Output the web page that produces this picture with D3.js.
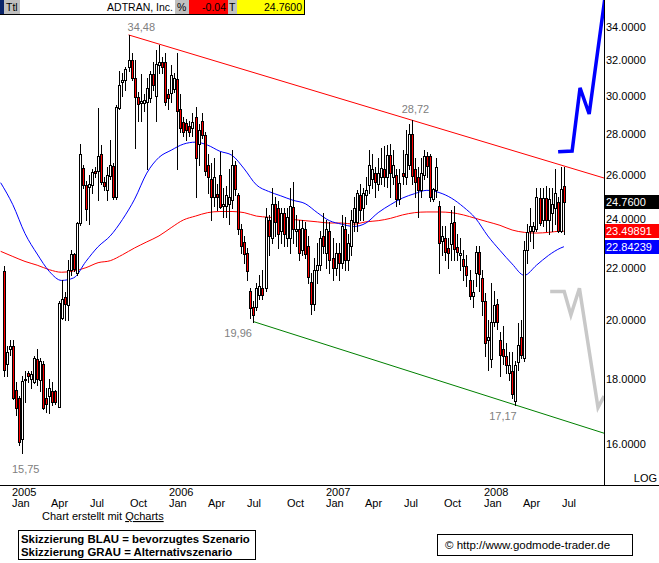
<!DOCTYPE html>
<html><head><meta charset="utf-8">
<script src="https://cdn.jsdelivr.net/npm/d3@7"></script>
<style>
body{margin:0;background:#fff;}
svg{display:block;font-family:"Liberation Sans",Arial,sans-serif;}
</style></head><body>
<svg id="c" width="659" height="563"></svg>
<script>
// ---------- DATA ----------
const firstWeek = "2004-12-13"; // weekly candles, one per week from here
const opens = [21.85,18.5,19.0,19.1,17.65,17.4,16.15,17.95,18.2,18.0,17.9,18.65,17.95,18.5,17.4,17.45,17.6,17.6,17.1,20.1,
20.85,20.55,21.9,22.55,21.8,23.85,26.35,25.55,25.45,25.55,26.2,26.2,27.0,25.7,25.3,25.95,26.45,25.0,29.35,30.75,
30.9,31.6,32.0,31.0,29.95,29.6,29.6,29.65,29.9,31.2,30.0,31.7,31.9,31.9,30.1,30.15,30.4,30.95,29.3,28.6,
28.55,28.4,28.3,28.9,27.5,28.7,27.95,26.5,25.8,25.0,25.15,26.0,24.6,24.6,24.7,24.85,26.5,25.1,23.6,23.05,
22.6,21.1,20.5,20.5,20.95,21.2,21.2,24.0,23.2,24.7,24.5,23.5,24.3,23.2,23.2,24.55,23.5,23.6,22.7,23.6,
22.9,21.45,20.6,21.9,22.1,23.3,22.6,23.5,22.4,22.0,22.6,22.2,23.6,22.3,22.9,23.9,23.9,25.1,24.5,25.1,
25.55,25.8,26.1,25.6,25.9,26.3,25.9,26.95,25.9,26.0,24.9,26.1,25.9,26.5,28.0,26.3,25.9,25.3,26.0,26.9,
26.9,24.9,25.3,24.6,23.1,23.2,22.8,22.95,23.9,22.85,22.5,22.35,22.05,21.5,20.9,21.8,22.65,21.6,20.7,19.3,
18.65,19.95,20.6,19.3,19.0,18.75,18.2,18.25,17.3,18.55,19.4,18.7,22.7,23.5,23.5,23.6,24.95,24.0,24.95,24.0,
24.3,24.5,24.75,23.5,25.5];
const highs = [22.05,19.1,19.3,19.3,17.9,17.45,18.1,18.25,18.25,18.25,18.75,19.0,18.7,18.6,17.7,18.0,17.9,17.65,20.7,21.5,
21.05,22.3,22.7,22.6,23.9,27.5,26.5,25.75,26.0,26.3,26.4,29.35,27.45,25.9,26.4,27.7,26.6,29.5,31.4,31.3,
31.6,33.5,32.4,32.0,30.2,31.2,30.1,31.0,31.4,31.9,32.6,32.9,32.2,32.4,30.4,31.7,31.3,32.4,30.1,28.9,
28.8,28.7,29.1,29.4,28.5,29.1,28.1,27.0,26.6,26.8,25.6,27.1,25.4,25.5,26.3,27.2,26.7,25.2,23.8,23.3,
22.8,21.2,20.7,21.4,21.7,21.9,24.5,24.2,25.4,25.0,24.8,24.5,24.5,24.5,25.4,25.7,24.2,24.0,24.0,23.9,
23.3,21.8,22.4,23.0,23.5,24.3,24.0,23.9,23.2,23.0,23.0,24.2,24.1,23.4,24.4,25.0,25.3,25.6,25.4,25.9,
27.2,27.0,26.4,26.8,27.3,27.4,27.45,27.5,27.2,26.3,26.3,27.2,28.2,28.5,28.72,26.8,26.4,26.8,27.2,27.1,
27.0,25.4,26.8,24.8,23.7,23.7,23.2,24.4,24.6,23.4,23.2,22.7,22.5,21.9,21.5,22.9,22.9,21.9,21.0,20.0,
21.4,21.1,20.8,19.6,19.8,19.2,18.9,18.9,18.6,19.9,20.0,23.1,23.8,24.5,23.9,25.4,25.4,25.4,25.5,25.4,
25.4,26.3,25.0,26.4,26.4];
const lows = [18.1,18.1,18.8,17.35,16.87,15.97,15.75,17.25,17.9,17.7,17.85,17.8,17.6,17.03,16.95,16.93,17.17,17.2,17.1,20.05,
20.0,20.0,21.7,21.85,21.7,23.75,25.4,24.0,23.8,25.2,25.9,24.85,25.6,25.3,24.85,25.8,24.9,24.9,29.3,30.0,
30.3,31.4,30.9,27.3,28.7,28.7,29.2,26.3,29.7,30.3,28.7,31.3,31.3,29.5,29.3,29.7,30.2,26.3,28.1,27.9,
27.7,27.9,27.9,25.0,26.5,27.8,26.0,25.2,24.0,24.6,24.4,24.5,24.1,24.1,23.8,24.5,25.1,23.4,22.6,22.2,
21.5,20.1,19.96,20.4,20.8,20.8,21.1,22.5,23.0,23.3,22.8,23.0,22.9,22.9,22.6,23.0,22.9,22.3,22.5,22.4,
21.4,20.25,20.4,21.4,21.9,22.6,22.0,21.8,21.5,21.7,21.5,22.0,21.9,21.9,22.5,23.5,23.5,24.0,24.0,24.7,
25.2,25.4,25.0,25.3,25.6,25.5,25.45,25.0,25.6,24.6,24.7,25.6,25.6,26.3,25.6,25.0,24.1,25.0,25.8,25.9,
24.8,24.8,25.0,21.8,22.5,22.3,22.0,22.3,22.3,22.3,21.9,21.5,21.3,20.8,20.5,21.3,21.1,20.2,18.75,18.3,
18.4,19.8,19.7,18.1,18.5,18.2,17.95,17.4,17.17,18.3,18.7,18.6,22.2,23.1,22.8,23.5,23.75,23.7,23.5,23.4,
23.5,23.8,23.45,23.45,23.4];
const closes = [18.3,18.9,19.1,17.4,17.07,16.05,17.93,18.0,18.1,18.15,18.7,18.0,18.6,17.07,17.2,17.7,17.25,17.27,20.65,20.8,
20.6,21.9,22.55,21.95,23.85,27.0,25.55,24.45,25.6,26.15,26.1,26.9,25.7,25.5,26.0,26.5,25.0,29.4,30.6,30.9,
31.5,32.0,31.0,29.95,29.55,29.75,29.8,30.45,31.2,30.6,31.8,31.9,31.6,29.7,29.9,31.15,31.0,29.2,28.3,28.1,
28.2,28.1,28.6,26.8,28.2,27.95,26.2,25.9,25.0,25.9,25.0,24.55,24.7,25.1,25.0,26.5,25.35,23.6,22.9,22.55,
21.85,20.45,20.2,21.2,21.3,20.95,24.1,23.3,24.7,23.9,23.4,24.3,23.4,24.1,24.6,23.6,23.6,22.6,23.65,22.55,
21.65,20.6,21.9,22.1,23.2,22.9,23.6,22.3,22.0,22.6,22.2,23.7,22.3,23.0,24.0,24.5,25.2,24.4,25.2,25.3,
26.5,26.3,25.7,26.1,26.35,25.9,26.95,26.1,26.5,24.9,25.65,25.95,27.0,28.0,25.95,25.7,25.3,26.1,26.9,26.45,
25.0,25.35,26.4,23.0,23.3,22.65,22.6,23.85,22.75,22.65,22.6,22.05,21.7,20.9,21.05,22.65,21.75,20.7,19.2,19.4,
19.95,20.55,19.95,18.8,18.75,18.45,18.45,17.5,18.45,19.15,18.8,22.7,23.45,23.7,23.7,25.0,23.85,24.95,24.0,24.9,
24.7,25.2,23.5,25.35,24.76];

// moving averages, read every 4 weeks (week number counted from firstWeek)
const maWeeks = [-1,3,7,11,15,19,23,27,31,35,39,43,47,51,55,59,63,67,71,75,79,83,87,91,95,99,103,107,111,115,119,123,127,131,135,139,143,147,151,155,159,163,167,171,175,179,183,184];
const maRed = [22.66,22.45,22.25,22.1,21.92,21.82,21.87,22.0,22.2,22.28,22.52,22.8,23.05,23.3,23.65,23.98,24.15,24.3,24.35,24.35,24.3,24.15,24.1,24.05,24.0,23.95,23.9,23.85,23.85,23.8,23.9,23.95,24.05,24.2,24.3,24.33,24.33,24.3,24.2,24.05,23.9,23.75,23.55,23.45,23.42,23.45,23.5,23.5];
const maBlue = [25.65,24.65,23.4,22.55,21.85,21.5,21.6,22.25,22.85,23.3,24.0,24.9,26.1,26.85,27.2,27.5,27.6,27.45,27.15,26.95,26.3,25.55,25.25,25.05,24.85,24.7,24.3,23.95,23.8,23.7,23.85,24.3,24.65,24.95,25.15,25.3,25.2,24.95,24.55,24.05,23.3,22.7,22.15,21.7,22.1,22.5,22.8,22.85];

// trend lines: two anchor points each (week, price)
const trendTopWeeks = [41,134], trendTopPrices = [33.5,28.72];
const trendBotWeeks = [82,168], trendBotPrices = [19.96,17.17];

// scenario sketches (week, price)
const blueScenWeeks = [182.1,186.7,189.3,192.3,197.6];
const blueScenPrices = [27.12,27.16,30.44,29.04,36.0];
const greyScenWeeks = [179.5,184.1,186.3,189.1,195.2,197.2];
const greyScenPrices = [21.07,21.07,20.2,21.2,17.09,17.45];

// annotations
const noteLabels = ["34,48","28,72","19,96","17,17","15,75"];
const noteWeeks = [41,134,82,168,6];
const notePrices = [33.5,28.72,19.96,17.17,15.75];

const yTicks = [16,18,20,22,24,26,28,30,32,34];
const lastPrice = 24.76, maRedLast = 23.49891, maBlueLast = 22.84239;
const headerName = "ADTRAN, Inc.", headerChange = "-0.04", headerPrice = "24.7600";

// ---------- SCALES ----------
const W = 659, H = 563, plotR = 604, plotB = 485;
const t0 = new Date(2004,11,13);
const weekDate = w => new Date(t0.getTime() + w*7*864e5);
const x = d3.scaleTime().domain([t0, new Date(2008,5,23)]).range([3.7, 563.9]);
const y = d3.scaleLog().domain([16,34]).range([444, 26.7]);
const xw = w => x(weekDate(w));
// time axis labels use the chart's calendar scale (slightly tighter than candle spacing)
const xLab = d3.scaleTime().domain([new Date(2005,0,1), new Date(2008,6,1)]).range([12, 562]);

const svg = d3.select("#c");
svg.append("rect").attr("width",W).attr("height",H).attr("fill","#fff");
svg.append("defs").append("clipPath").attr("id","clip")
  .append("rect").attr("x",0).attr("y",0).attr("width",plotR).attr("height",plotB);
const plot = svg.append("g").attr("clip-path","url(#clip)");

// moving averages
const maLine = d3.line().x((d,i)=>xw(maWeeks[i])).y(d=>y(d)).curve(d3.curveMonotoneX);
plot.append("path").attr("d",maLine(maRed)).attr("fill","none").attr("stroke","#ff0000").attr("stroke-width",1);
plot.append("path").attr("d",maLine(maBlue)).attr("fill","none").attr("stroke","#0000ff").attr("stroke-width",1);

// trend lines extended to axis
function trend(ws, ps, color){
  const x1 = xw(ws[0]), y1 = y(ps[0]), x2 = xw(ws[1]), y2 = y(ps[1]);
  const s = (y2-y1)/(x2-x1);
  plot.append("line").attr("x1",x1).attr("y1",y1).attr("x2",plotR).attr("y2",y1+s*(plotR-x1))
    .attr("stroke",color).attr("stroke-width",1);
}
trend(trendTopWeeks, trendTopPrices, "#ff0000");
trend(trendBotWeeks, trendBotPrices, "#008000");

// candles
const candles = opens.map((o,i)=>({w:i,o,h:highs[i],l:lows[i],c:closes[i]}));
const cg = plot.append("g");
candles.forEach(d=>{
  const cx = Math.round(xw(d.w));
  cg.append("line").attr("x1",cx+0.5).attr("x2",cx+0.5)
    .attr("y1",Math.round(y(d.h))).attr("y2",Math.round(y(d.l))+1)
    .attr("stroke","#000").attr("stroke-width",1);
  const top = Math.round(y(Math.max(d.o,d.c))), bot = Math.round(y(Math.min(d.o,d.c)));
  cg.append("rect").attr("x",cx-0.5).attr("y",top+0.5).attr("width",2).attr("height",Math.max(bot-top,1))
    .attr("fill", d.c < d.o ? "#ff0000" : "#ffffff").attr("stroke","#000").attr("stroke-width",1);
});

// scenarios
const scen = (ws) => d3.line().x((d,i)=>xw(ws[i])).y(d=>y(d));
plot.append("path").attr("d",scen(greyScenWeeks)(greyScenPrices)).attr("fill","none")
  .attr("stroke","#c8c8c8").attr("stroke-width",3.5).attr("stroke-linejoin","miter");
plot.append("path").attr("d",scen(blueScenWeeks)(blueScenPrices)).attr("fill","none")
  .attr("stroke","#0000ff").attr("stroke-width",3.5).attr("stroke-linejoin","miter");

// annotations
noteLabels.forEach((t,i)=>{
  const xx = xw(noteWeeks[i]), yy = y(notePrices[i]);
  let tx, ty;
  if(i===0){tx=xx-1; ty=yy-4;}
  else if(i===1){tx=xx-10; ty=yy-7;}
  else if(i===2){tx=xx-29; ty=yy+15;}
  else if(i===3){tx=xx-26; ty=yy+15;}
  else {tx=xx-10; ty=yy+20;}
  svg.append("text").attr("x",tx).attr("y",ty).attr("font-size",11).attr("fill","#808080").text(t);
});

// axes lines
svg.append("line").attr("x1",0).attr("x2",W).attr("y1",plotB+0.5).attr("y2",plotB+0.5).attr("stroke","#000");
svg.append("line").attr("x1",plotR+0.5).attr("x2",plotR+0.5).attr("y1",0).attr("y2",plotB).attr("stroke","#000");

// right axis tick labels
yTicks.forEach(v=>{
  svg.append("text").attr("x",606).attr("y",y(v)).attr("dy","0.36em").attr("font-size",11).attr("fill","#000").text(v.toFixed(4));
});
function valBox(v, bg, txt, x0){
  const yy = Math.round(y(v));
  svg.append("rect").attr("x",x0).attr("y",yy-7).attr("width",W-x0).attr("height",14).attr("fill",bg);
  svg.append("text").attr("x",606).attr("y",yy).attr("dy","0.36em").attr("font-size",11).attr("fill","#fff").text(txt);
}
valBox(lastPrice,"#000000",lastPrice.toFixed(4),605);
valBox(maRedLast,"#ff0000",maRedLast.toFixed(5),605);
valBox(maBlueLast,"#0000ff",maBlueLast.toFixed(5),605);
svg.append("text").attr("x",657).attr("y",482).attr("text-anchor","end").attr("font-size",11).text("LOG");

// x axis labels
const months = d3.timeMonth.every(3).range(new Date(2005,0,1), new Date(2008,7,1));
months.forEach(m=>{
  const xx = Math.round(xLab(m));
  if(m.getMonth()===0) svg.append("text").attr("x",xx).attr("y",496).attr("font-size",11).text(m.getFullYear());
  svg.append("text").attr("x",xx).attr("y",507).attr("font-size",11).text(d3.timeFormat("%b")(m));
});

// header
const hdr = svg.append("g").attr("font-size",10.5);
[[0,4,"#0a246a"],[4,16,"#c0c0c0"],[20,155,"#ffffff"],[175,14,"#c0c0c0"],[189,39,"#ff0000"],[228,9,"#c0c0c0"],[237,67,"#ffff00"]]
  .forEach(b=>hdr.append("rect").attr("x",b[0]).attr("y",0).attr("width",b[1]).attr("height",14).attr("fill",b[2]));
hdr.append("text").attr("x",6).attr("y",11).text("Ttl");
hdr.append("text").attr("x",173).attr("y",11).attr("text-anchor","end").text(headerName);
hdr.append("text").attr("x",177).attr("y",11).text("%");
hdr.append("text").attr("x",226).attr("y",11).attr("text-anchor","end").text(headerChange);
hdr.append("text").attr("x",229).attr("y",11).text("T");
hdr.append("text").attr("x",302).attr("y",11).attr("text-anchor","end").text(headerPrice);
hdr.append("line").attr("x1",0).attr("x2",305).attr("y1",14.5).attr("y2",14.5).attr("stroke","#000");
hdr.append("line").attr("x1",304.5).attr("x2",304.5).attr("y1",0).attr("y2",15).attr("stroke","#000");

// footer
const ft = svg.append("text").attr("x",42).attr("y",520).attr("font-size",11);
ft.append("tspan").text("Chart erstellt mit ");
ft.append("tspan").attr("text-decoration","underline").text("Qcharts");
svg.append("rect").attr("x",18.5).attr("y",530.5).attr("width",237).attr("height",29).attr("fill","#fff").attr("stroke","#000");
svg.append("text").attr("x",21).attr("y",543).attr("font-size",11.4).attr("font-weight","bold").text("Skizzierung BLAU = bevorzugtes Szenario");
svg.append("text").attr("x",21).attr("y",556).attr("font-size",11.4).attr("font-weight","bold").text("Skizzierung GRAU = Alternativszenario");
svg.append("rect").attr("x",437.5).attr("y",534.5).attr("width",195).attr("height",21).attr("fill","#fff").attr("stroke","#000");
svg.append("text").attr("x",445).attr("y",549).attr("font-size",11.5).text("\u00A9 http://www.godmode-trader.de");
</script></body></html>
